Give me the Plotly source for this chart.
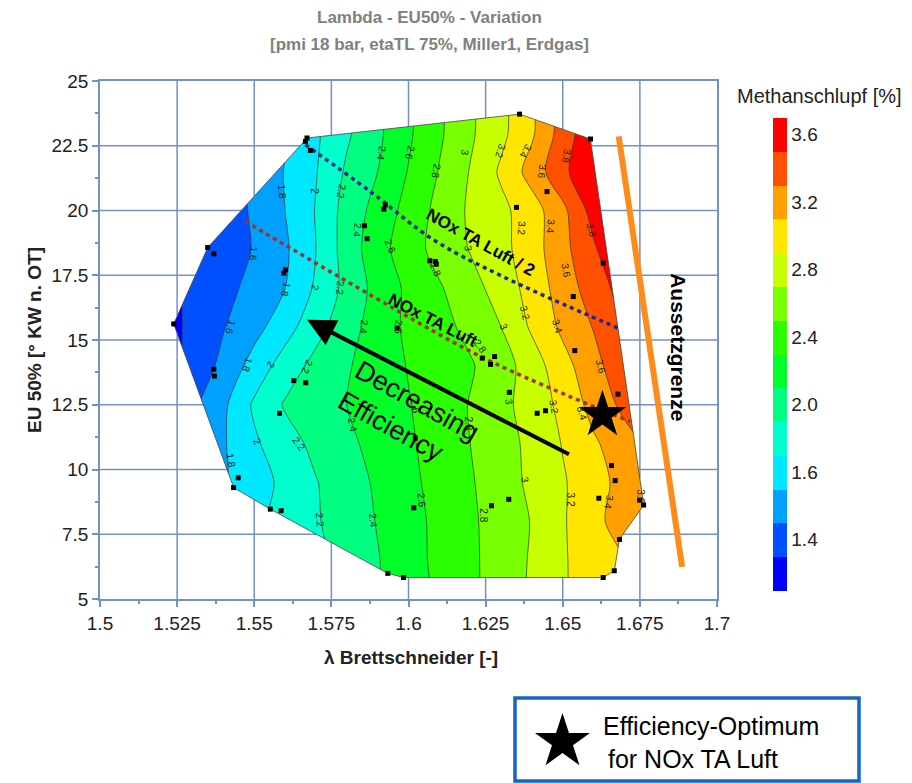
import math
import plotly.graph_objects as go

# ---------------- data ----------------
# Methanschlupf [%] on a lambda / EU50% grid
lam_grid = [1.52, 1.53, 1.54, 1.55, 1.56, 1.57, 1.58, 1.59, 1.60,
            1.61, 1.62, 1.63, 1.64, 1.65, 1.66, 1.67, 1.68, 1.69]
eu_grid = [5.0, 6.5, 8.0, 9.5, 11.0, 12.5, 14.0, 15.5, 17.0, 18.5, 20.0, 21.5, 23.0, 24.5]
methan = [
    [1.56, 1.67, 1.79, 1.91, 2.03, 2.15, 2.27, 2.39, 2.51, 2.63, 2.76, 2.89, 3.03, 3.18, 3.29, 3.39, 3.52, 3.70],
    [1.56, 1.67, 1.79, 1.91, 2.03, 2.15, 2.27, 2.39, 2.52, 2.65, 2.76, 2.89, 3.02, 3.18, 3.30, 3.40, 3.54, 3.73],
    [1.61, 1.72, 1.84, 1.95, 2.07, 2.18, 2.30, 2.41, 2.53, 2.65, 2.77, 2.88, 3.01, 3.18, 3.34, 3.50, 3.66, 3.84],
    [1.48, 1.63, 1.78, 1.91, 2.05, 2.19, 2.31, 2.43, 2.55, 2.67, 2.78, 2.91, 3.04, 3.18, 3.32, 3.47, 3.67, 3.87],
    [1.49, 1.64, 1.78, 1.97, 2.12, 2.25, 2.36, 2.46, 2.57, 2.69, 2.80, 2.92, 3.05, 3.21, 3.37, 3.52, 3.68, 3.99],
    [1.37, 1.56, 1.76, 2.03, 2.22, 2.31, 2.40, 2.49, 2.59, 2.70, 2.81, 2.94, 3.09, 3.25, 3.47, 3.65, 3.93, 4.04],
    [1.30, 1.47, 1.65, 1.88, 2.09, 2.26, 2.38, 2.50, 2.61, 2.70, 2.78, 2.91, 3.10, 3.33, 3.53, 3.75, 4.00, 4.14],
    [1.30, 1.45, 1.59, 1.73, 1.92, 2.13, 2.32, 2.49, 2.64, 2.74, 2.85, 3.00, 3.23, 3.44, 3.61, 3.82, 4.04, 4.24],
    [1.33, 1.44, 1.54, 1.66, 1.80, 2.03, 2.26, 2.47, 2.64, 2.78, 2.93, 3.08, 3.28, 3.49, 3.70, 3.88, 4.04, 4.24],
    [1.33, 1.44, 1.52, 1.61, 1.77, 2.00, 2.29, 2.52, 2.71, 2.87, 3.01, 3.14, 3.31, 3.54, 3.77, 4.03, 4.24, 4.44],
    [1.30, 1.38, 1.49, 1.63, 1.80, 2.01, 2.28, 2.47, 2.67, 2.86, 3.03, 3.15, 3.31, 3.55, 3.88, 4.17, 4.34, 4.44],
    [1.30, 1.38, 1.49, 1.64, 1.81, 1.99, 2.23, 2.40, 2.61, 2.81, 3.01, 3.23, 3.48, 3.75, 3.99, 4.14, 4.24, 4.34],
    [1.30, 1.38, 1.45, 1.57, 1.78, 1.97, 2.17, 2.36, 2.57, 2.77, 2.97, 3.15, 3.37, 3.69, 3.96, 4.14, 4.24, 4.34],
    [1.30, 1.38, 1.45, 1.57, 1.78, 1.97, 2.17, 2.36, 2.57, 2.77, 2.97, 3.15, 3.37, 3.69, 3.96, 4.14, 4.24, 4.34],
]

# isoline labels: level, lambda, EU50%, text angle
lbl_val = [1.8, 2.0, 2.2, 2.4, 2.6, 2.8, 3.0, 3.2, 3.4, 3.6, 3.8,
           2.4, 3.2, 3.4, 3.8, 1.6, 2.6, 2.8, 3.0, 3.6,
           1.8, 2.0, 2.2, 3.2, 3.4, 1.6, 2.4, 2.6, 3.0, 2.8,
           1.8, 2.0, 2.2, 3.0, 3.2, 3.4, 2.4, 2.6, 2.8, 2.0, 2.2, 1.8, 3.6,
           2.2, 2.4, 2.6, 2.8, 3.0, 3.2, 3.4, 3.6]
lbl_lam = [1.5590, 1.5695, 1.5782, 1.5914, 1.6006, 1.6090, 1.6184, 1.6298, 1.6379, 1.6433, 1.6512,
           1.5833, 1.6368, 1.6460, 1.6592, 1.5498, 1.5941, 1.6087, 1.6195, 1.6509,
           1.5601, 1.5698, 1.5779, 1.6379, 1.6482, 1.5423, 1.5855, 1.5968, 1.6309, 1.6233,
           1.5477, 1.5552, 1.5671, 1.6325, 1.6471, 1.6563, 1.5817, 1.6022, 1.6195, 1.5509, 1.5644, 1.5423, 1.6622,
           1.5714, 1.5887, 1.6044, 1.6244, 1.6379, 1.6525, 1.6649, 1.6752]
lbl_eu = [20.73, 20.73, 20.73, 22.22, 22.22, 21.51, 22.22, 22.28, 22.28, 21.51, 22.09,
          19.25, 19.32, 19.38, 19.25, 18.35, 18.61, 17.71, 18.55, 17.71,
          16.94, 17.00, 17.00, 16.04, 15.52, 15.52, 15.52, 15.52, 15.52, 14.75,
          14.04, 14.04, 13.97, 12.62, 12.43, 12.17, 11.72, 12.43, 11.79, 11.07, 11.01, 10.37, 13.97,
          8.05, 8.05, 8.82, 8.24, 9.59, 8.82, 8.76, 8.95]
lbl_ang = [84, 90, 100, 100, 104, 100, 101, 107, 119, 96, 99,
           95, 93, 95, 73, 95, 68, 67, 85, 80,
           103, 96, 95, 76, 74, 107, 95, 92, 69, 55,
           108, 119, 114, 84, 81, 73, 79, 85, 90, 63, 55, 80, 76,
           85, 84, 85, 90, 80, 90, 101, 90]

# outline of the measured operating range (clockwise)
hull_lam = [1.52389, 1.53491, 1.56713, 1.63604, 1.65896, 1.67624, 1.66836,
            1.66674, 1.66308, 1.59844, 1.59326, 1.55523, 1.54334]
hull_eu = [15.62, 18.57, 22.80, 23.72, 22.76, 8.63, 7.30,
           6.09, 5.83, 5.83, 5.99, 8.47, 9.30]

# measurement points
pt_lam = [1.5671, 1.5666, 1.5682, 1.5925, 1.5920, 1.5857, 1.5866, 1.6069, 1.6087, 1.6090,
          1.5349, 1.5369, 1.5601, 1.5596, 1.5963, 1.5239, 1.5369, 1.5371, 1.6360, 1.6590,
          1.6449, 1.6350, 1.6631, 1.6534, 1.6539, 1.6239, 1.6279, 1.6266, 1.6327, 1.6417,
          1.6444, 1.6679, 1.6658, 1.6670, 1.6617, 1.6749, 1.6762, 1.6684, 1.6667, 1.6631,
          1.6325, 1.6269, 1.5628, 1.5667, 1.5582, 1.6017, 1.5933, 1.5984, 1.5552, 1.5587,
          1.5433, 1.5448, 1.6022]
pt_eu = [22.80, 22.67, 22.32, 20.22, 20.05, 19.41, 18.91, 18.06, 18.03, 17.93,
         18.57, 18.33, 17.71, 17.58, 15.46, 15.62, 13.87, 13.61, 23.72, 22.76,
         20.73, 20.12, 17.97, 16.68, 14.59, 14.30, 14.36, 14.06, 12.98, 12.17,
         12.27, 12.91, 10.15, 9.57, 8.89, 8.82, 8.63, 7.30, 6.09, 5.83,
         8.85, 8.60, 13.43, 13.35, 12.17, 8.52, 5.99, 5.83, 8.47, 8.41,
         9.30, 9.68, 11.21]

# efficiency optimum for NOx TA Luft
opt_lam = [1.66286]
opt_eu = [12.11]

# NOx limit lines and misfire limit
nox_half_lam = [1.56658, 1.58765, 1.60807, 1.63076, 1.66772]
nox_half_eu = [22.54, 20.73, 18.87, 17.44, 15.47]
nox_lam = [1.54713, 1.58765, 1.62428, 1.67193]
nox_eu = [19.58, 16.74, 14.31, 11.85]
limit_lam = [1.66814, 1.68869]
limit_eu = [22.86, 6.24]

# efficiency arrow (tail -> head)
arrow_lam = [1.65248, 1.56713]
arrow_eu = [10.56, 15.78]

# axis ticks
x_ticks = [1.5, 1.525, 1.55, 1.575, 1.6, 1.625, 1.65, 1.675, 1.7]
x_labels = ["1.5", "1.525", "1.55", "1.575", "1.6", "1.625", "1.65", "1.675", "1.7"]
y_ticks = [5, 7.5, 10, 12.5, 15, 17.5, 20, 22.5, 25]
y_labels = ["5", "7.5", "10", "12.5", "15", "17.5", "20", "22.5", "25"]

# colour bands (lowest to highest, step 0.2 from 1.2 to 4.0)
band_colors = ["#0000ff", "#0050ff", "#00a0ff", "#00e8ff", "#00ffcc", "#00ff80", "#00ff2a",
               "#2aff00", "#78ff00", "#c8ff00", "#ffe600", "#ffa000", "#ff5000", "#ff0000"]
cbar_vals = [1.5, 1.9, 2.3, 2.7, 3.1, 3.5, 3.9]
cbar_text = ["1.4", "1.6", "2.0", "2.4", "2.8", "3.2", "3.6"]

# ---------------- styling helpers ----------------
FONT = "Liberation Sans, Arial, sans-serif"
GRID = "#7391c6"
X0, X1, Y0, Y1 = 1.5, 1.7, 5.0, 25.0
ML, MR, MT, MB, W, H = 100, 195, 81, 184, 912, 783
PW, PH = W - ML - MR, H - MT - MB


def paper_x(px):
    return (px - ML) / PW


def paper_y(py):
    return (H - MB - py) / PH


n_b = len(band_colors)
# contour fill: band k is sampled at level start + (k - 0.5) * size -> domain [1.3, 3.9]
cs_contour = []
for k, c in enumerate(band_colors):
    cs_contour += [[max(0.0, (k - 0.5) / (n_b - 1)), c], [min(1.0, (k + 0.5) / (n_b - 1)), c]]
# colour bar: equal bands over [1.2, 4.0]
cs_bar = []
for k, c in enumerate(band_colors):
    cs_bar += [[k / n_b, c], [(k + 1) / n_b, c]]

hull = list(zip(hull_lam, hull_eu))


def crossings(value, vertical):
    """Where a grid line meets the outline of the operating range."""
    hits = []
    for i in range(len(hull)):
        (xa, ya), (xb, yb) = hull[i], hull[(i + 1) % len(hull)]
        a, b = (xa, xb) if vertical else (ya, yb)
        if a != b and (a - value) * (b - value) <= 0:
            t = (value - a) / (b - a)
            hits.append(ya + t * (yb - ya) if vertical else xa + t * (xb - xa))
    return hits


# grid lines drawn only outside the measured range
gx, gy = [], []
for xv in x_ticks[1:-1]:
    h = crossings(xv, True)
    segs = [(Y0, min(h)), (max(h), Y1)] if len(h) >= 2 else [(Y0, Y1)]
    for s0, s1 in segs:
        gx += [xv, xv, None]
        gy += [s0, s1, None]
for yv in y_ticks[1:-1]:
    h = crossings(yv, False)
    segs = [(X0, min(h)), (max(h), X1)] if len(h) >= 2 else [(X0, X1)]
    for s0, s1 in segs:
        gx += [s0, s1, None]
        gy += [yv, yv, None]

# white cover outside the measured range (frame with the outline as a hole)
lx = X0 - 0.01
mask_x = [lx, lx, X1 + 0.01, X1 + 0.01, lx, lx] + hull_lam + [hull_lam[0], lx]
mask_y = [hull_eu[0], Y0 - 0.2, Y0 - 0.2, Y1 + 0.2, Y1 + 0.2, hull_eu[0]] + hull_eu + [hull_eu[0], hull_eu[0]]

fig = go.Figure()

fig.add_trace(go.Contour(
    x=lam_grid, y=eu_grid, z=methan,
    autocontour=False,
    contours=dict(start=1.4, end=3.8, size=0.2, coloring="fill", showlabels=False),
    colorscale=cs_contour, showscale=False,
    line=dict(color="#333333", width=0.7, smoothing=0.8),
    hoverinfo="skip",
))

fig.add_trace(go.Scatter(x=mask_x, y=mask_y, mode="lines", fill="toself", fillcolor="white",
                         line=dict(width=0, color="white"), hoverinfo="skip", showlegend=False))

fig.add_trace(go.Scatter(x=gx, y=gy, mode="lines", line=dict(color=GRID, width=1.5),
                         hoverinfo="skip", showlegend=False))

fig.add_trace(go.Scatter(x=hull_lam + [hull_lam[0]], y=hull_eu + [hull_eu[0]], mode="lines",
                         line=dict(color="#444444", width=0.8), hoverinfo="skip", showlegend=False))

fig.add_trace(go.Scatter(x=limit_lam, y=limit_eu, mode="lines",
                         line=dict(color="#ff8c1a", width=6), hoverinfo="skip", showlegend=False))

fig.add_trace(go.Scatter(x=nox_half_lam, y=nox_half_eu, mode="lines",
                         line=dict(color="#1c2a8c", width=3.5, dash="4px,4px", shape="spline"),
                         hoverinfo="skip", showlegend=False))
fig.add_trace(go.Scatter(x=nox_lam, y=nox_eu, mode="lines",
                         line=dict(color="#a3302c", width=3.5, dash="4px,4px", shape="spline"),
                         hoverinfo="skip", showlegend=False))

fig.add_trace(go.Scatter(x=pt_lam, y=pt_eu, mode="markers",
                         marker=dict(symbol="square", size=5, color="black"),
                         hoverinfo="skip", showlegend=False))

fig.add_trace(go.Scatter(x=opt_lam, y=opt_eu, mode="markers",
                         marker=dict(symbol="star", size=36, color="black", line=dict(width=0)),
                         hoverinfo="skip", showlegend=False))

# colour bar
fig.add_trace(go.Scatter(
    x=[None], y=[None], mode="markers", hoverinfo="skip", showlegend=False,
    marker=dict(color=[1.2], colorscale=cs_bar, cmin=1.2, cmax=4.0, showscale=True,
                colorbar=dict(thickness=14, thicknessmode="pixels", len=473, lenmode="pixels",
                              x=paper_x(773), xanchor="left", y=paper_y(354), yanchor="middle",
                              xpad=0, ypad=0, outlinewidth=0, ticks="",
                              tickmode="array", tickvals=cbar_vals, ticktext=cbar_text,
                              tickfont=dict(family=FONT, size=19, color="#222222"))),
))


def ann(text, px, py, size, color="#222222", **kw):
    d = dict(text=text, xref="paper", yref="paper", x=paper_x(px), y=paper_y(py),
             xanchor="center", yanchor="middle", showarrow=False,
             font=dict(family=FONT, size=size, color=color))
    d.update(kw)
    return d


annotations = [
    ann("<b>Lambda - EU50% - Variation</b>", 430, 17, 17, "#808080"),
    ann("<b>[pmi 18 bar, etaTL 75%, Miller1, Erdgas]</b>", 430, 45, 17, "#808080"),
    ann("<b>λ Brettschneider [-]</b>", 411, 657, 19),
    ann("<b>EU 50% [° KW n. OT]</b>", 34, 340, 19, textangle=-90),
    ann("Methanschlupf [%]", 820, 96, 20),
    ann("Efficiency-Optimum", 601, 726, 25, "black", xanchor="left"),
    ann("for NOx TA Luft", 606, 759, 25, "black", xanchor="left"),
]

# isoline labels
for v, lx_, ly_, a in zip(lbl_val, lbl_lam, lbl_eu, lbl_ang):
    annotations.append(dict(text=f"{v:g}", x=lx_, y=ly_, textangle=a, showarrow=False,
                            xanchor="center", yanchor="middle",
                            font=dict(family=FONT, size=10, color="#222222")))

annotations += [
    dict(text="<b>NOx TA Luft / 2</b>", x=1.6233, y=18.75, textangle=29, showarrow=False,
         font=dict(family=FONT, size=17, color="black")),
    dict(text="<b>NOx TA Luft</b>", x=1.6079, y=15.74, textangle=27, showarrow=False,
         font=dict(family=FONT, size=17, color="black")),
    dict(text="Decreasing<br>Efficiency", x=1.6000, y=12.03, textangle=29, showarrow=False,
         align="left", font=dict(family=FONT, size=27, color="black")),
    dict(text="<b>Aussetzgrenze</b>", x=1.6873, y=14.73, textangle=90, showarrow=False,
         font=dict(family=FONT, size=21, color="black")),
    dict(text="", x=arrow_lam[1], y=arrow_eu[1], ax=arrow_lam[0], ay=arrow_eu[0],
         axref="x", ayref="y", showarrow=True, arrowhead=2, arrowsize=1.4, arrowwidth=4,
         arrowcolor="black"),
]

# five-pointed star for the key box
cx, cy, r_out = 562.5, 741.9, 28.9
r_in = r_out * 0.382
star = []
for i in range(10):
    ang = math.radians(-90 + 36 * i)
    rr = r_out if i % 2 == 0 else r_in
    star.append((paper_x(cx + rr * math.cos(ang)), paper_y(cy + rr * math.sin(ang))))
star_path = "M " + " L ".join(f"{x:.5f},{y:.5f}" for x, y in star) + " Z"

shapes = [
    dict(type="rect", xref="paper", yref="paper", x0=paper_x(515), x1=paper_x(859),
         y0=paper_y(781), y1=paper_y(698), line=dict(color="#1565c0", width=3.5),
         fillcolor="white", layer="below"),
    dict(type="path", xref="paper", yref="paper", path=star_path,
         fillcolor="black", line=dict(width=0)),
]

axis_common = dict(showgrid=False, zeroline=False, showline=True, mirror=True,
                   linecolor=GRID, linewidth=1.5, ticks="outside", ticklen=6, tickwidth=1.5,
                   tickcolor=GRID, tickfont=dict(family=FONT, size=19, color="#222222"))

fig.update_layout(
    width=W, height=H,
    margin=dict(l=ML, r=MR, t=MT, b=MB),
    paper_bgcolor="white", plot_bgcolor="white",
    showlegend=False,
    annotations=annotations,
    shapes=shapes,
    xaxis=dict(range=[X0, X1], tickmode="array", tickvals=x_ticks, ticktext=x_labels,
               minor=dict(ticks="outside", ticklen=3, tick0=1.5, dtick=0.0125,
                          tickcolor=GRID, showgrid=False), **axis_common),
    yaxis=dict(range=[Y0, Y1], tickmode="array", tickvals=y_ticks, ticktext=y_labels,
               minor=dict(ticks="outside", ticklen=3, tick0=5, dtick=1.25,
                          tickcolor=GRID, showgrid=False), **axis_common),
)

fig.write_html("out.html")
